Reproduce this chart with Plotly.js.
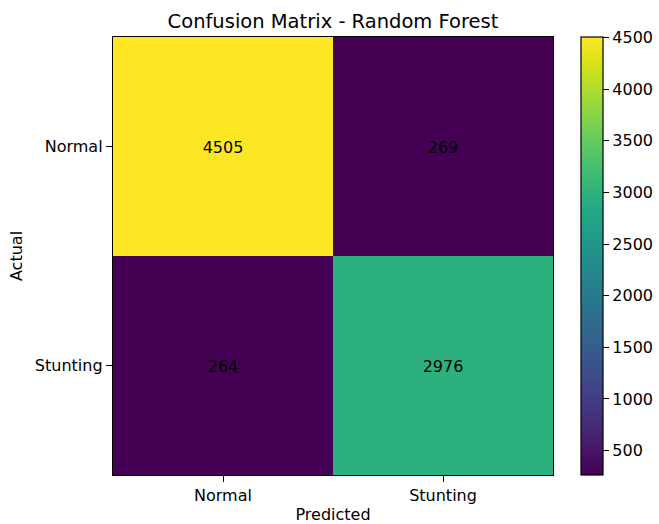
<!DOCTYPE html>
<html><head><meta charset="utf-8">
<script src="https://cdn.plot.ly/plotly-3.0.1.min.js"></script>
<style>body{margin:0;background:#fff}</style>
</head><body>
<div id="chart" style="width:659px;height:524px"></div>
<script>
const predictedLabels = ["Normal", "Stunting"];
const actualLabels = ["Normal", "Stunting"];
const rowNormal = [4505, 269];
const rowStunting = [264, 2976];
const colorTicks = [500, 1000, 1500, 2000, 2500, 3000, 3500, 4000, 4500];

const z = [rowNormal, rowStunting];
const trace = {
  type: "heatmap",
  x: predictedLabels,
  y: actualLabels,
  z: z,
  colorscale: "Viridis",
  texttemplate: "%{z}",
  textfont: {family: "DejaVu Sans", size: 16, color: "#000"},
  xgap: 0, ygap: 0,
  hoverinfo: "none",
  colorbar: {
    x: 1.0636, xanchor: "left", xref: "paper",
    y: 0.5, yanchor: "middle", len: 1, lenmode: "fraction",
    thickness: 22, thicknessmode: "pixels",
    outlinewidth: 1.2, outlinecolor: "#000",
    tickvals: colorTicks, ticks: "outside", ticklen: 6, tickcolor: "#000",
    tickfont: {family: "DejaVu Sans", size: 16, color: "#000"},
    xpad: 0, ypad: 0
  }
};
const layout = {
  width: 659, height: 524,
  margin: {l: 113, r: 106, t: 37, b: 49, autoexpand: false},
  paper_bgcolor: "#fff", plot_bgcolor: "#fff",
  font: {family: "DejaVu Sans", size: 16, color: "#000"},
  title: {text: "Confusion Matrix - Random Forest", xref: "paper", x: 0.5, xanchor: "center", y: 0.96, yanchor: "middle", font: {size: 19.5}},
  xaxis: {
    title: {text: "Predicted", standoff: 9, font: {size: 16}},
    ticks: "outside", ticklen: 6, tickcolor: "#000",
    tickfont: {size: 16},
    showline: true, linecolor: "#000", linewidth: 1.2, mirror: true,
    showgrid: false, zeroline: false, automargin: false
  },
  yaxis: {
    title: {text: "Actual", standoff: 8, font: {size: 16}},
    autorange: "reversed",
    ticks: "outside", ticklen: 6, tickcolor: "#000",
    tickfont: {size: 16},
    showline: true, linecolor: "#000", linewidth: 1.2, mirror: true,
    showgrid: false, zeroline: false, automargin: false
  }
};
Plotly.newPlot("chart", [trace], layout, {displayModeBar: false, staticPlot: true});
</script>
</body></html>
